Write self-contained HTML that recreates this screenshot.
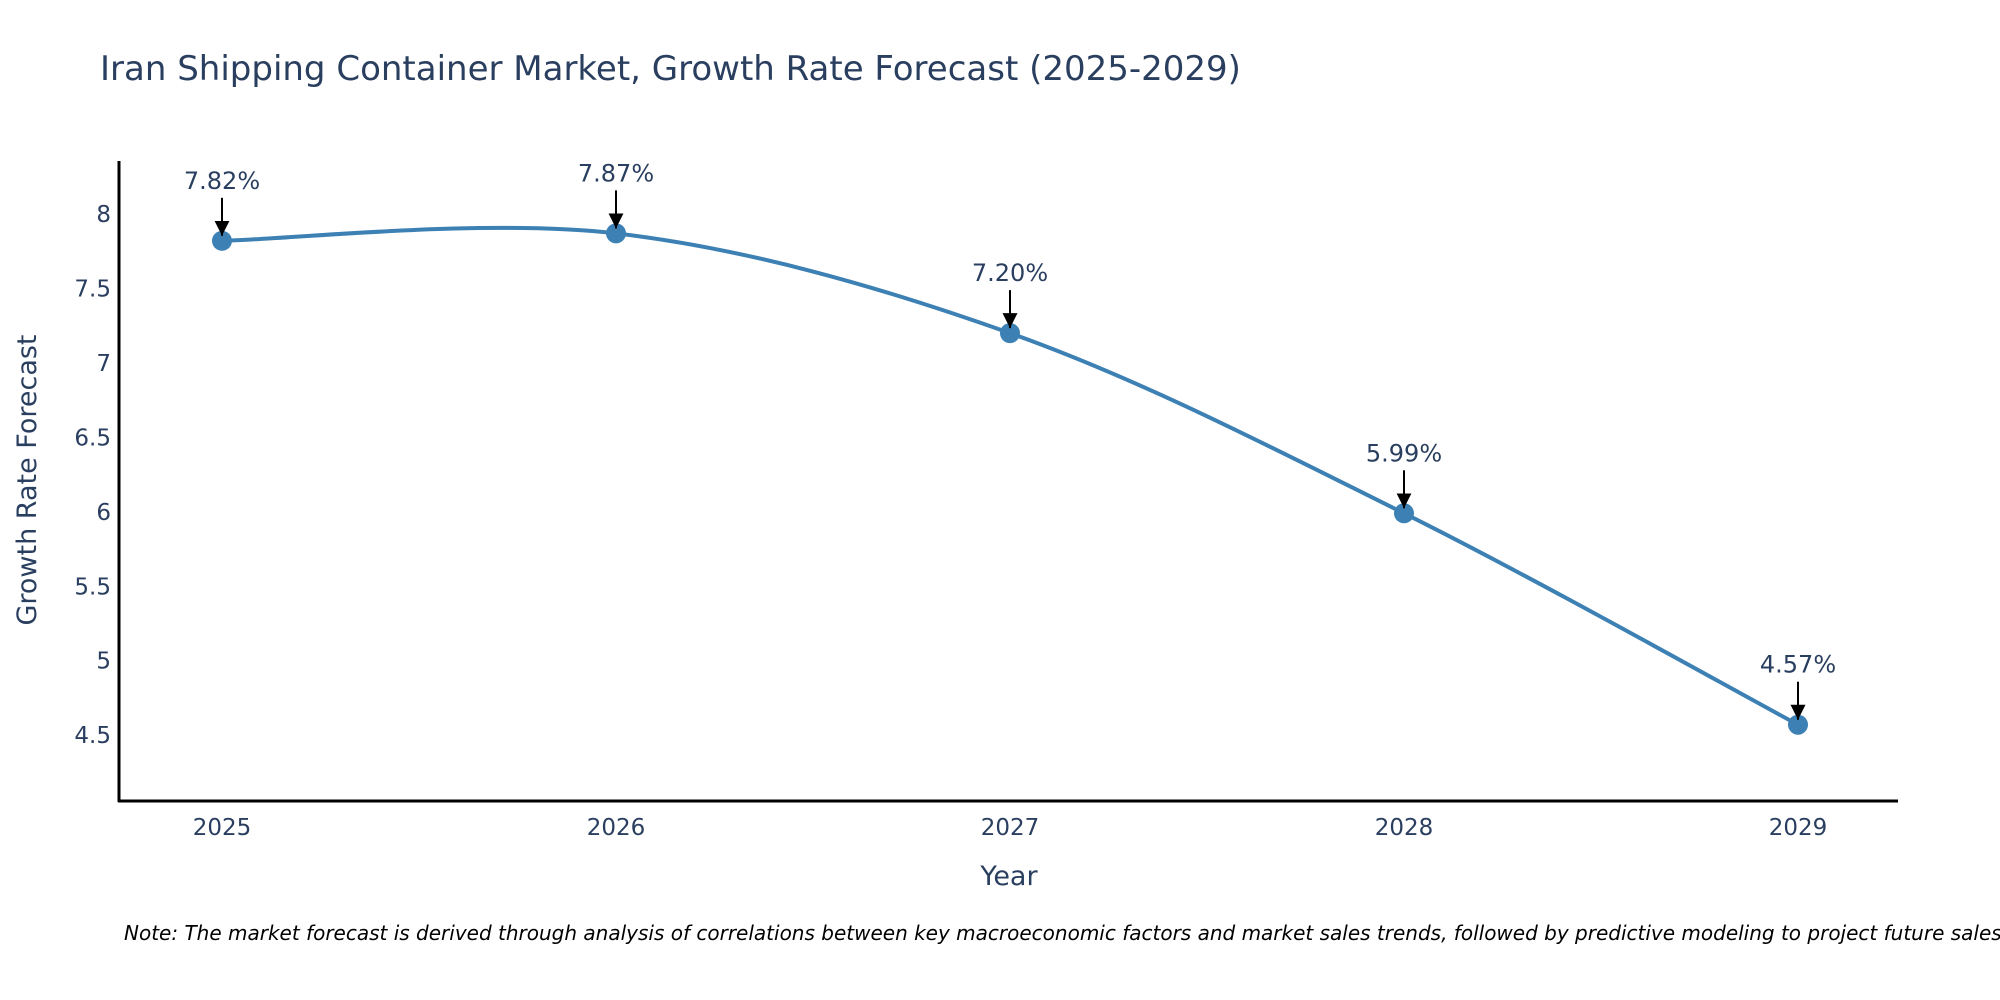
<!DOCTYPE html>
<html><head><meta charset="utf-8"><style>
html,body{margin:0;padding:0;background:#fff;}
svg{display:block;font-family:"DejaVu Sans","Liberation Sans",sans-serif;}
</style></head><body>
<svg id="chart" width="2000" height="1000" viewBox="0 0 2000 1000">
<defs><marker id="ah" viewBox="0 0 10 10" refX="10" refY="5" markerUnits="userSpaceOnUse" markerWidth="15" markerHeight="15" orient="auto"><path d="M0,0 L10,5 L0,10 z" fill="#000"/></marker></defs>
<text x="100" y="80" font-size="34" fill="#2a3f5f">Iran Shipping Container Market, Growth Rate Forecast (2025-2029)</text>
<g id="yticks"></g>
<g id="xticks"></g>
<line x1="119" y1="161" x2="119" y2="802" stroke="#000" stroke-width="3"/>
<line x1="118" y1="801" x2="1898" y2="801" stroke="#000" stroke-width="3"/>
<text transform="translate(36,480) rotate(-90)" text-anchor="middle" font-size="27" fill="#2a3f5f">Growth Rate Forecast</text>
<text x="1009" y="885" text-anchor="middle" font-size="27" fill="#2a3f5f">Year</text>
<path id="line" fill="none" stroke="#3c80b4" stroke-width="4"/>
<g id="points"></g>
<g id="annots"></g>
<text x="124" y="940" font-size="20" font-style="italic" fill="#000">Note: The market forecast is derived through analysis of correlations between key macroeconomic factors and market sales trends, followed by predictive modeling to project future sales.</text>
</svg>
<script>
const years = [2025, 2026, 2027, 2028, 2029];
const values = [7.82, 7.87, 7.20, 5.99, 4.57];
const valueLabels = ["7.82%", "7.87%", "7.20%", "5.99%", "4.57%"];
const yTickValues = [4.5, 5, 5.5, 6, 6.5, 7, 7.5, 8];
const yTickLabels = ["4.5", "5", "5.5", "6", "6.5", "7", "7.5", "8"];

const NS = "http://www.w3.org/2000/svg";
function xs(v){ return 222 + (v - 2025) * 394; }
function ys(v){ return 214 + (8 - v) * 148.9; }
function mk(tag, attrs, parent){ const e = document.createElementNS(NS, tag); for (const k in attrs) e.setAttribute(k, attrs[k]); parent.appendChild(e); return e; }

const yg = document.getElementById('yticks');
yTickValues.forEach((v, i) => {
  const t = mk('text', {x: 111, y: ys(v) + 8, 'text-anchor': 'end', 'font-size': 23, fill: '#2a3f5f'}, yg);
  
  
  t.textContent = yTickLabels[i];
});
const xg = document.getElementById('xticks');
years.forEach(y => {
  const t = mk('text', {x: xs(y), y: 835, 'text-anchor': 'middle', 'font-size': 23, fill: '#2a3f5f'}, xg);
  
  
  t.textContent = String(y);
});

const pts = years.map((y, i) => [xs(y), ys(values[i])]);
let d = `M${pts[0][0]},${pts[0][1]}`;
const s = 0.5;
for (let i = 0; i < pts.length - 1; i++) {
  const p0 = pts[Math.max(i - 1, 0)], p1 = pts[i], p2 = pts[i + 1], p3 = pts[Math.min(i + 2, pts.length - 1)];
  const c1 = [p1[0] + (p2[0] - p0[0]) * s / 3, p1[1] + (p2[1] - p0[1]) * s / 3];
  const c2 = [p2[0] - (p3[0] - p1[0]) * s / 3, p2[1] - (p3[1] - p1[1]) * s / 3];
  d += ` C${c1[0]},${c1[1]} ${c2[0]},${c2[1]} ${p2[0]},${p2[1]}`;
}
document.getElementById('line').setAttribute('d', d);

const pg = document.getElementById('points');
const ag = document.getElementById('annots');
pts.forEach((p, i) => {
  const c = mk('circle', {cx: p[0], cy: p[1], r: 10, fill: '#3c80b4'}, pg);
  
  
  const l = mk('line', {x1: p[0], y1: p[1] - 43, x2: p[0], y2: p[1] - 5, stroke: '#000', 'stroke-width': 2, 'marker-end': 'url(#ah)'}, ag);
  
  
  const t = mk('text', {x: p[0], y: p[1] - 52, 'text-anchor': 'middle', 'font-size': 24, fill: '#2a3f5f'}, ag);
  
  
  t.textContent = valueLabels[i];
});
</script>
</body></html>
